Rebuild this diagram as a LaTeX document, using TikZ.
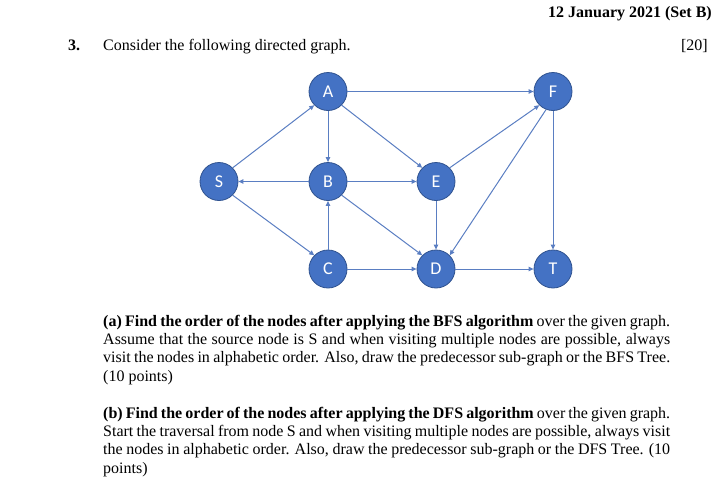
\documentclass[tikz,border=0pt]{standalone}
\usepackage{fontspec}
\setmainfont{Liberation Serif}
\newfontfamily\lblfont{Carlito}
\usetikzlibrary{arrows.meta}
\definecolor{nodefill}{HTML}{4472C4}
\definecolor{nodeline}{HTML}{2F528F}
\definecolor{edgecol}{HTML}{5A7EC2}
\tikzset{
  vtx/.style={circle, fill=nodefill, draw=nodeline, line width=0.8pt, minimum size=38pt, inner sep=0pt, text=white, font=\lblfont\fontsize{18}{20}\selectfont},
  edge/.style={draw=edgecol, line width=1pt, -{Triangle[length=5pt,width=4.5pt]}},
  txt/.style={inner sep=0pt, font=\fontsize{16}{18.4}\selectfont}
}
\newcommand{\jline}[1]{\makebox[567pt][s]{#1}}
\begin{document}
\begin{tikzpicture}[x=1pt,y=-1pt]
\useasboundingbox (0,0) rectangle (721,485);
% header
\node[txt, anchor=base east] (title) at (712,17) {\textbf{12 January 2021 (Set B)}};
\node[txt, anchor=base west] (qnum) at (68,50) {\textbf{3.}};
\node[txt, anchor=base west] (qtxt) at (103,50) {Consider the following directed graph.};
\node[txt, anchor=base east] (marks) at (708,50) {[20]};
% graph nodes
\node[vtx] (A) at (328,91.5) {A};
\node[vtx] (F) at (553,91.5) {F};
\node[vtx] (S) at (219,181.5) {S};
\node[vtx] (B) at (328,181.5) {B};
\node[vtx] (E) at (436,181.5) {E};
\node[vtx] (C) at (328,269) {C};
\node[vtx] (D) at (436,269) {D};
\node[vtx] (T) at (553,269) {T};
% edges
\draw[edge] (S.north east) -- (A.south west);
\draw[edge] (B.west) -- (S.east);
\draw[edge] (S.south east) -- (C.north west);
\draw[edge] (A.east) -- (F.west);
\draw[edge] (A.south) -- (B.north);
\draw[edge] (A.south east) -- (E.north west);
\draw[edge] (B.east) -- (E.west);
\draw[edge] (B.south east) -- (D.north west);
\draw[edge] (C.north) -- (B.south);
\draw[edge] (C.east) -- (D.west);
\draw[edge] (E.north east) -- (F.south west);
\draw[edge] (E.south) -- (D.north);
\draw[edge] (F.249) -- (D.north east);
\draw[edge] (F.south) -- (T.north);
\draw[edge] (D.east) -- (T.west);
% part (a)
\node[txt, anchor=base west] (a1) at (103,326) {\jline{\textbf{(a) Find the order of the nodes after applying the BFS algorithm} over the given graph.}};
\node[txt, anchor=base west] (a2) at (103,344.3) {\jline{Assume that the source node is S and when visiting multiple nodes are possible, always}};
\node[txt, anchor=base west] (a3) at (103,362.7) {\jline{visit the nodes in alphabetic order. Also, draw the predecessor sub-graph or the BFS Tree.}};
\node[txt, anchor=base west] (a4) at (103,381) {(10 points)};
% part (b)
\node[txt, anchor=base west] (b1) at (103,418) {\jline{\textbf{(b) Find the order of the nodes after applying the DFS algorithm} over the given graph.}};
\node[txt, anchor=base west] (b2) at (103,436.3) {\jline{Start the traversal from node S and when visiting multiple nodes are possible, always visit}};
\node[txt, anchor=base west] (b3) at (103,454.7) {\jline{the nodes in alphabetic order. Also, draw the predecessor sub-graph or the DFS Tree. (10}};
\node[txt, anchor=base west] (b4) at (103,473) {points)};
\end{tikzpicture}
\end{document}
